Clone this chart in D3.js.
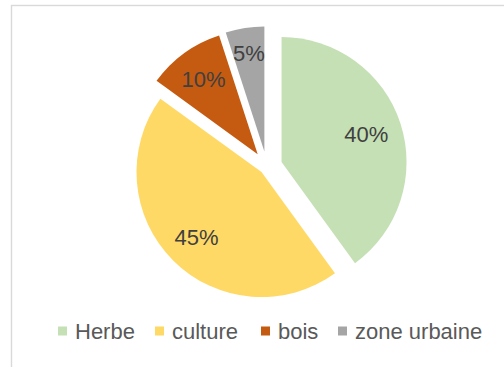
<!DOCTYPE html>
<html>
<head>
<meta charset="utf-8">
<script src="https://cdn.jsdelivr.net/npm/d3@7"></script>
<style>
  html, body { margin: 0; padding: 0; background: #ffffff; }
  svg { display: block; }
  text { font-family: "Liberation Sans", Arial, sans-serif; }
</style>
</head>
<body>
<svg id="chart" width="504" height="367"></svg>
<script>
// Land use shares (%)
const categories = ["Herbe", "culture", "bois", "zone urbaine"];
const values = [40, 45, 10, 5];
const labels = ["40%", "45%", "10%", "5%"];

// Presentation settings
const colors = ["#C5E0B4", "#FFD966", "#C55A11", "#A5A5A5"];
const explode = [15.5, 7.5, 15.5, 15.5];
const labelDist = [89, 92, 92, 99];

const W = 504, H = 367;
const svg = d3.select("#chart");

// chart frame (continues past the right and bottom edges)
svg.append("rect")
  .attr("x", 11.5).attr("y", 5.5)
  .attr("width", W + 20).attr("height", H + 20)
  .attr("fill", "#ffffff")
  .attr("stroke", "#d9d9d9")
  .attr("stroke-width", 1.4);

const cx = 266.8, cy = 166.8, R = 125;

const pie = d3.pie().sort(null).value(d => d)
  .startAngle(0).endAngle(2 * Math.PI);
const arcs = pie(values);
const arc = d3.arc().innerRadius(0).outerRadius(R);

const g = svg.append("g").attr("transform", `translate(${cx},${cy})`);

const slice = g.selectAll("g.slice").data(arcs).join("g")
  .attr("class", "slice")
  .attr("transform", (d, i) => {
    const a = (d.startAngle + d.endAngle) / 2;
    return `translate(${Math.sin(a) * explode[i]},${-Math.cos(a) * explode[i]})`;
  });

slice.append("path")
  .attr("d", arc)
  .attr("fill", (d, i) => colors[i]);

slice.append("text")
  .attr("transform", (d, i) =>
    `translate(${d3.arc().innerRadius(labelDist[i]).outerRadius(labelDist[i]).centroid(d)})`)
  .attr("text-anchor", "middle")
  .attr("dominant-baseline", "central")
  .attr("font-size", 22)
  .attr("fill", "#404040")
  .text((d, i) => labels[i]);

// legend
const legendX = [58, 155, 261, 338];
const legend = svg.append("g").attr("transform", "translate(0,331)");
const item = legend.selectAll("g").data(categories).join("g")
  .attr("transform", (d, i) => `translate(${legendX[i]},0)`);
item.append("rect")
  .attr("x", 0).attr("y", -4.5)
  .attr("width", 9).attr("height", 9)
  .attr("fill", (d, i) => colors[i]);
item.append("text")
  .attr("x", 17).attr("y", 0)
  .attr("dominant-baseline", "central")
  .attr("font-size", 22)
  .attr("fill", "#595959")
  .text(d => d);
</script>
</body>
</html>
